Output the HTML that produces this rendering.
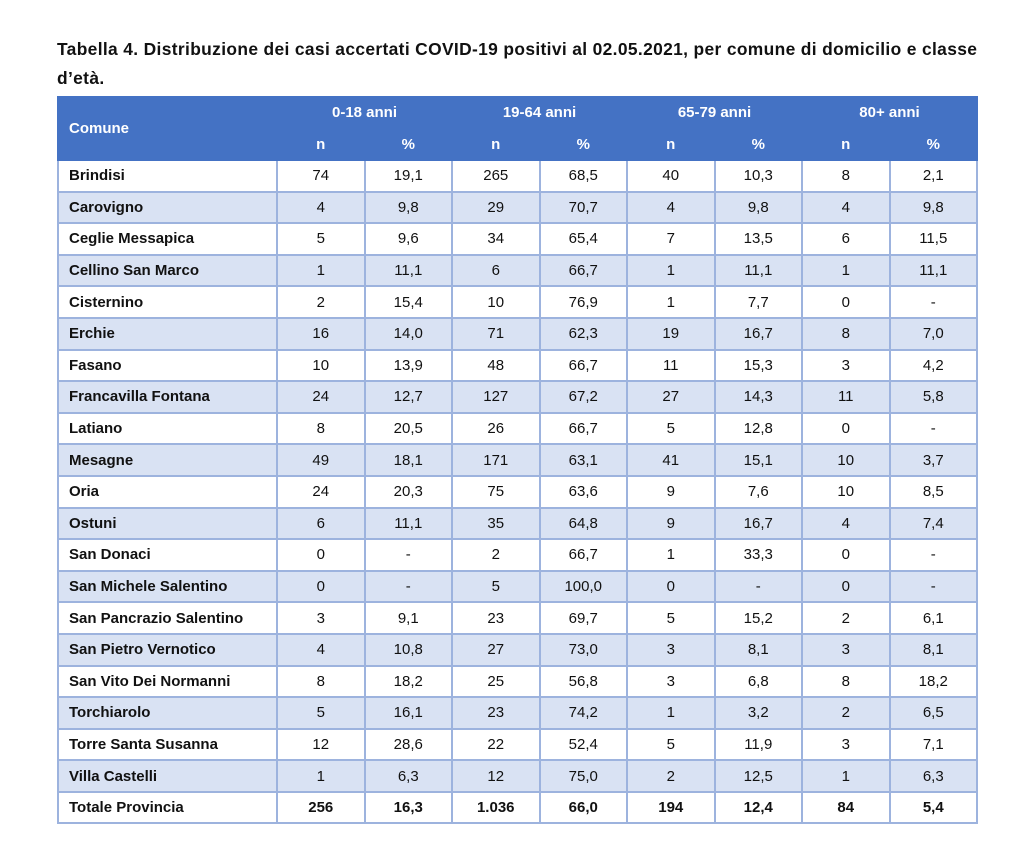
<!DOCTYPE html>
<html><head><meta charset="utf-8"><style>
body{margin:0;width:1036px;height:857px;background:#fff;font-family:"Liberation Sans",sans-serif;position:relative;overflow:hidden}
.t{position:absolute;left:57px;top:35px;font-size:17.4px;font-weight:bold;color:#111;line-height:29px;width:960px;white-space:nowrap;letter-spacing:0.35px}
table{position:absolute;left:57px;top:96px;border-collapse:collapse;table-layout:fixed;width:919px;font-size:15px;color:#111}
td,th{border:2px solid #9db3de;text-align:center;padding:0;height:29.6px}
th{background:#4472c4;color:#fff;font-weight:bold;border-color:#4472c4;border-left:2px solid #8eaadb;height:29.5px}
th.c{text-align:left;padding-left:10px;border-left-color:#4472c4}
td:first-child{text-align:left;padding-left:10px;font-weight:bold}
tr.a td{background:#d9e2f3}
tr.tot td{font-weight:bold}
</style></head><body>
<div class="t">Tabella 4. Distribuzione dei casi accertati COVID-19 positivi al 02.05.2021, per comune di domicilio e classe<br>d’età.</div>
<table>
<colgroup><col style="width:219px"><col span="8" style="width:87.5px"></colgroup>
<tr><th class="c" rowspan="2">Comune</th><th colspan="2">0-18 anni</th><th colspan="2">19-64 anni</th><th colspan="2">65-79 anni</th><th colspan="2">80+ anni</th></tr>
<tr><th>n</th><th>%</th><th>n</th><th>%</th><th>n</th><th>%</th><th>n</th><th>%</th></tr>
<tr><td>Brindisi</td><td>74</td><td>19,1</td><td>265</td><td>68,5</td><td>40</td><td>10,3</td><td>8</td><td>2,1</td></tr>
<tr class="a"><td>Carovigno</td><td>4</td><td>9,8</td><td>29</td><td>70,7</td><td>4</td><td>9,8</td><td>4</td><td>9,8</td></tr>
<tr><td>Ceglie Messapica</td><td>5</td><td>9,6</td><td>34</td><td>65,4</td><td>7</td><td>13,5</td><td>6</td><td>11,5</td></tr>
<tr class="a"><td>Cellino San Marco</td><td>1</td><td>11,1</td><td>6</td><td>66,7</td><td>1</td><td>11,1</td><td>1</td><td>11,1</td></tr>
<tr><td>Cisternino</td><td>2</td><td>15,4</td><td>10</td><td>76,9</td><td>1</td><td>7,7</td><td>0</td><td>-</td></tr>
<tr class="a"><td>Erchie</td><td>16</td><td>14,0</td><td>71</td><td>62,3</td><td>19</td><td>16,7</td><td>8</td><td>7,0</td></tr>
<tr><td>Fasano</td><td>10</td><td>13,9</td><td>48</td><td>66,7</td><td>11</td><td>15,3</td><td>3</td><td>4,2</td></tr>
<tr class="a"><td>Francavilla Fontana</td><td>24</td><td>12,7</td><td>127</td><td>67,2</td><td>27</td><td>14,3</td><td>11</td><td>5,8</td></tr>
<tr><td>Latiano</td><td>8</td><td>20,5</td><td>26</td><td>66,7</td><td>5</td><td>12,8</td><td>0</td><td>-</td></tr>
<tr class="a"><td>Mesagne</td><td>49</td><td>18,1</td><td>171</td><td>63,1</td><td>41</td><td>15,1</td><td>10</td><td>3,7</td></tr>
<tr><td>Oria</td><td>24</td><td>20,3</td><td>75</td><td>63,6</td><td>9</td><td>7,6</td><td>10</td><td>8,5</td></tr>
<tr class="a"><td>Ostuni</td><td>6</td><td>11,1</td><td>35</td><td>64,8</td><td>9</td><td>16,7</td><td>4</td><td>7,4</td></tr>
<tr><td>San Donaci</td><td>0</td><td>-</td><td>2</td><td>66,7</td><td>1</td><td>33,3</td><td>0</td><td>-</td></tr>
<tr class="a"><td>San Michele Salentino</td><td>0</td><td>-</td><td>5</td><td>100,0</td><td>0</td><td>-</td><td>0</td><td>-</td></tr>
<tr><td>San Pancrazio Salentino</td><td>3</td><td>9,1</td><td>23</td><td>69,7</td><td>5</td><td>15,2</td><td>2</td><td>6,1</td></tr>
<tr class="a"><td>San Pietro Vernotico</td><td>4</td><td>10,8</td><td>27</td><td>73,0</td><td>3</td><td>8,1</td><td>3</td><td>8,1</td></tr>
<tr><td>San Vito Dei Normanni</td><td>8</td><td>18,2</td><td>25</td><td>56,8</td><td>3</td><td>6,8</td><td>8</td><td>18,2</td></tr>
<tr class="a"><td>Torchiarolo</td><td>5</td><td>16,1</td><td>23</td><td>74,2</td><td>1</td><td>3,2</td><td>2</td><td>6,5</td></tr>
<tr><td>Torre Santa Susanna</td><td>12</td><td>28,6</td><td>22</td><td>52,4</td><td>5</td><td>11,9</td><td>3</td><td>7,1</td></tr>
<tr class="a"><td>Villa Castelli</td><td>1</td><td>6,3</td><td>12</td><td>75,0</td><td>2</td><td>12,5</td><td>1</td><td>6,3</td></tr>
<tr class="tot"><td>Totale Provincia</td><td>256</td><td>16,3</td><td>1.036</td><td>66,0</td><td>194</td><td>12,4</td><td>84</td><td>5,4</td></tr>
</table>
</body></html>
